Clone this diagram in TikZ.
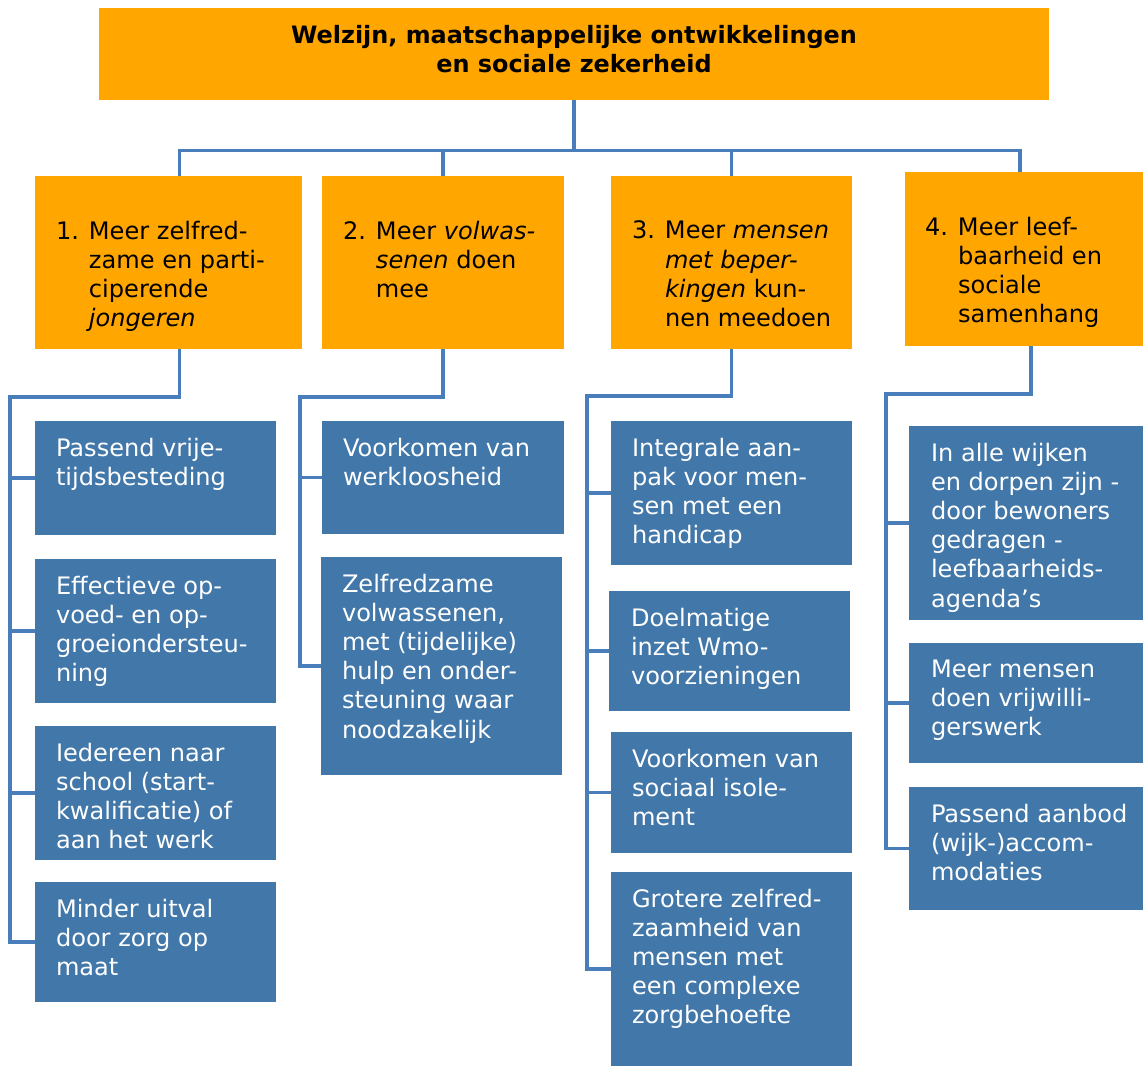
\documentclass[tikz,border=0pt]{standalone}
\usepackage{fontspec}
\setmainfont{DejaVu Sans}
\usetikzlibrary{fit}
\definecolor{wzOranje}{HTML}{FFA600}
\definecolor{wzBlauw}{HTML}{4277A9}
\definecolor{wzLijn}{HTML}{4A7EBB}
\newlength{\inspr}\setlength{\inspr}{0.66cm}
\newcommand{\nummer}[1]{\makebox[\inspr][l]{#1}}
\newcommand{\inspring}{\hspace*{\inspr}}

\tikzset{
  doel/.style={fill=wzOranje, inner sep=0pt},
  sub/.style={fill=wzBlauw, inner sep=0pt},
  tekst/.style={anchor=north west, align=left, inner sep=0pt,
    font=\fontsize{13.7}{16.6}\selectfont},
  subtekst/.style={tekst, text=white},
  lijn/.style={draw=wzLijn, line width=2pt},
}

\begin{document}
\begin{tikzpicture}[x=0.02cm, y=-0.02cm]
    \useasboundingbox (0,0) rectangle (1143,1066);

    % Hoofdthema
    \node[doel, fit={(99,8) (1049,100)}] (hoofd) {};
    \node[font=\bfseries\fontsize{13.6}{16.6}\selectfont, align=center] (titel) at (574,49)
      {Welzijn, maatschappelijke ontwikkelingen\\en sociale zekerheid};

    % Doelen
    \node[doel, fit={(35,176) (302,349)}] (g1) {};
    \node[tekst] (tg1) at ([shift={(21,45)}]g1.north west)
      {\nummer{1.}Meer zelfred-\\ \inspring zame en parti-\\ \inspring ciperende\\ \inspring\textit{jongeren}};
    \node[doel, fit={(322,176) (564,349)}] (g2) {};
    \node[tekst] (tg2) at ([shift={(21,45)}]g2.north west)
      {\nummer{2.}Meer \textit{volwas-}\\ \inspring\textit{senen} doen\\ \inspring mee};
    \node[doel, fit={(611,176) (852,349)}] (g3) {};
    \node[tekst] (tg3) at ([shift={(21,45)}]g3.north west)
      {\nummer{3.}Meer \textit{mensen}\\ \inspring\textit{met beper-}\\ \inspring\textit{kingen} kun-\\ \inspring nen meedoen};
    \node[doel, fit={(905,172) (1143,346)}] (g4) {};
    \node[tekst] (tg4) at ([shift={(20,45)}]g4.north west)
      {\nummer{4.}Meer leef-\\ \inspring baarheid en\\ \inspring sociale\\ \inspring samenhang};

    % Verbindingen hoofdthema - doelen
    \draw[lijn] (hoofd.south) -- ++(0,50) -| ([xshift=0.22cm]g1.north);
    \draw[lijn] (hoofd.south) -- ++(0,50) -| (g2.north);
    \draw[lijn] (hoofd.south) -- ++(0,50) -| (g3.north);
    \draw[lijn] (hoofd.south) -- ++(0,50) -| ([xshift=-0.08cm]g4.north);

    % Subdoelen 1
    \node[sub, fit={(35,421) (276,535)}] (c11) {};
    \node[subtekst] (t11) at ([shift={(21,17)}]c11.north west) {Passend vrije-\\tijdsbesteding};
    \node[sub, fit={(35,559) (276,703)}] (c12) {};
    \node[subtekst] (t12) at ([shift={(21,17)}]c12.north west) {Effectieve op-\\voed- en op-\\groeiondersteu-\\ning};
    \node[sub, fit={(35,726) (276,860)}] (c13) {};
    \node[subtekst] (t13) at ([shift={(21,17)}]c13.north west) {Iedereen naar\\school (start-\\kwalificatie) of\\aan het werk};
    \node[sub, fit={(35,882) (276,1002)}] (c14) {};
    \node[subtekst] (t14) at ([shift={(21,17)}]c14.north west) {Minder uitval\\door zorg op\\maat};

    % Subdoelen 2
    \node[sub, fit={(322,421) (564,534)}] (c21) {};
    \node[subtekst] (t21) at ([shift={(21,17)}]c21.north west) {Voorkomen van\\werkloosheid};
    \node[sub, fit={(321,557) (562,775)}] (c22) {};
    \node[subtekst] (t22) at ([shift={(21,17)}]c22.north west) {Zelfredzame\\volwassenen,\\met (tijdelijke)\\hulp en onder-\\steuning waar\\noodzakelijk};

    % Subdoelen 3
    \node[sub, fit={(611,421) (852,565)}] (c31) {};
    \node[subtekst] (t31) at ([shift={(21,17)}]c31.north west) {Integrale aan-\\pak voor men-\\sen met een\\handicap};
    \node[sub, fit={(609,591) (850,711)}] (c32) {};
    \node[subtekst] (t32) at ([shift={(22,17)}]c32.north west) {Doelmatige\\inzet Wmo-\\voorzieningen};
    \node[sub, fit={(611,732) (852,853)}] (c33) {};
    \node[subtekst] (t33) at ([shift={(21,17)}]c33.north west) {Voorkomen van\\sociaal isole-\\ment};
    \node[sub, fit={(611,872) (852,1066)}] (c34) {};
    \node[subtekst] (t34) at ([shift={(21,17)}]c34.north west) {Grotere zelfred-\\zaamheid van\\mensen met\\een complexe\\zorgbehoefte};

    % Subdoelen 4
    \node[sub, fit={(909,426) (1143,620)}] (c41) {};
    \node[subtekst] (t41) at ([shift={(22,17)}]c41.north west) {In alle wijken\\en dorpen zijn -\\door bewoners\\gedragen -\\leefbaarheids-\\agenda’s};
    \node[sub, fit={(909,643) (1143,763)}] (c42) {};
    \node[subtekst] (t42) at ([shift={(22,17)}]c42.north west) {Meer mensen\\doen vrijwilli-\\gerswerk};
    \node[sub, fit={(909,787) (1143,910)}] (c43) {};
    \node[subtekst] (t43) at ([shift={(22,17)}]c43.north west) {Passend aanbod\\(wijk-)accom-\\modaties};

    % Verbindingen doelen - subdoelen
    \coordinate (s1) at (10,397);
    \draw[lijn] ([xshift=0.22cm]g1.south) |- (s1) -- (s1 |- c14.west) -- (c14.west);
    \draw[lijn] (s1 |- c11.west) -- (c11.west);
    \draw[lijn] (s1 |- c12.west) -- (c12.west);
    \draw[lijn] (s1 |- c13.west) -- (c13.west);

    \coordinate (s2) at (300,397);
    \draw[lijn] (g2.south) |- (s2) -- (s2 |- c22.west) -- (c22.west);
    \draw[lijn] (s2 |- c21.west) -- (c21.west);

    \coordinate (s3) at (587,396);
    \draw[lijn] (g3.south) |- (s3) -- (s3 |- c34.west) -- (c34.west);
    \draw[lijn] (s3 |- c31.west) -- (c31.west);
    \draw[lijn] (s3 |- c32.west) -- (c32.west);
    \draw[lijn] (s3 |- c33.west) -- (c33.west);

    \coordinate (s4) at (886,394);
    \draw[lijn] ([xshift=0.14cm]g4.south) |- (s4) -- (s4 |- c43.west) -- (c43.west);
    \draw[lijn] (s4 |- c41.west) -- (c41.west);
    \draw[lijn] (s4 |- c42.west) -- (c42.west);
  \end{tikzpicture}
\end{document}
